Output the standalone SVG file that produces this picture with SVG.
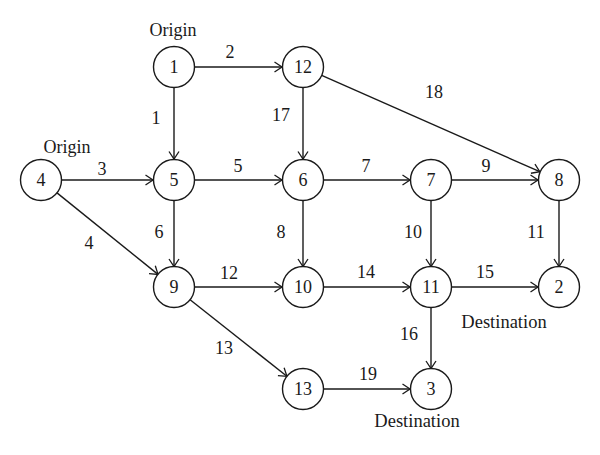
<svg xmlns="http://www.w3.org/2000/svg" width="600" height="455" viewBox="0 0 600 455">
<defs>
<marker id="arr" viewBox="-10 -6 12 12" refX="0" refY="0" markerWidth="12" markerHeight="12" markerUnits="userSpaceOnUse" orient="auto">
<path d="M -7.5 -5 L 0 0 L -7.5 5" fill="none" stroke="#1a1a1a" stroke-width="1.3"/>
</marker>
</defs>
<style>
.n circle{fill:#fff;stroke:#1a1a1a;stroke-width:1.4}
text{font-family:"Liberation Serif","Times New Roman",serif;font-size:18px;fill:#1a1a1a;text-anchor:middle}
.e line{stroke:#1a1a1a;stroke-width:1.4;marker-end:url(#arr)}
</style>
<rect width="600" height="455" fill="#fff"/>
<g id="connectors" class="e">
<line x1="194.5" y1="67" x2="282" y2="67"/>
<line x1="174" y1="87.5" x2="174" y2="159"/>
<line x1="303" y1="87.5" x2="303" y2="159"/>
<line x1="321.7" y1="75.3" x2="539.8" y2="171.7"/>
<line x1="61.5" y1="180" x2="153" y2="180"/>
<line x1="57" y1="192.9" x2="158" y2="274.4"/>
<line x1="194.5" y1="180" x2="282" y2="180"/>
<line x1="174" y1="200.5" x2="174" y2="266.5"/>
<line x1="323.5" y1="180" x2="410" y2="180"/>
<line x1="303" y1="200.5" x2="303" y2="266.5"/>
<line x1="451.5" y1="180" x2="538" y2="180"/>
<line x1="431" y1="200.5" x2="431" y2="266.5"/>
<line x1="559" y1="200.5" x2="559" y2="266.5"/>
<line x1="194.5" y1="287" x2="282" y2="287"/>
<line x1="190.1" y1="299.7" x2="286.9" y2="376.3"/>
<line x1="323.5" y1="287" x2="410" y2="287"/>
<line x1="451.5" y1="287" x2="538" y2="287"/>
<line x1="431" y1="307.5" x2="431" y2="368.5"/>
<line x1="323.5" y1="389" x2="410" y2="389"/>
</g>
<g id="edge-labels">
<text x="156" y="124">1</text>
<text x="230" y="58">2</text>
<text x="102" y="175">3</text>
<text x="89" y="249">4</text>
<text x="238" y="172">5</text>
<text x="159" y="238">6</text>
<text x="366" y="172">7</text>
<text x="281" y="238">8</text>
<text x="486" y="172">9</text>
<text x="413" y="238">10</text>
<text x="536" y="238">11</text>
<text x="229" y="279">12</text>
<text x="224" y="354">13</text>
<text x="366" y="278">14</text>
<text x="485" y="278">15</text>
<text x="409" y="340">16</text>
<text x="281" y="121">17</text>
<text x="434" y="98">18</text>
<text x="368" y="380">19</text>
</g>
<g id="node-1" class="n"><circle cx="174" cy="67" r="20.5"/><text x="174" y="73">1</text><text x="173" y="36">Origin</text></g>
<g id="node-12" class="n"><circle cx="303" cy="67" r="20.5"/><text x="303" y="73">12</text></g>
<g id="node-4" class="n"><circle cx="41" cy="180" r="20.5"/><text x="41" y="186">4</text><text x="67" y="153">Origin</text></g>
<g id="node-5" class="n"><circle cx="174" cy="180" r="20.5"/><text x="174" y="186">5</text></g>
<g id="node-6" class="n"><circle cx="303" cy="180" r="20.5"/><text x="303" y="186">6</text></g>
<g id="node-7" class="n"><circle cx="431" cy="180" r="20.5"/><text x="431" y="186">7</text></g>
<g id="node-8" class="n"><circle cx="559" cy="180" r="20.5"/><text x="559" y="186">8</text></g>
<g id="node-9" class="n"><circle cx="174" cy="287" r="20.5"/><text x="174" y="293">9</text></g>
<g id="node-10" class="n"><circle cx="303" cy="287" r="20.5"/><text x="303" y="293">10</text></g>
<g id="node-11" class="n"><circle cx="431" cy="287" r="20.5"/><text x="431" y="293">11</text></g>
<g id="node-2" class="n"><circle cx="559" cy="287" r="20.5"/><text x="559" y="293">2</text><text x="504" y="328" style="font-size:18.5px">Destination</text></g>
<g id="node-13" class="n"><circle cx="303" cy="389" r="20.5"/><text x="303" y="395">13</text></g>
<g id="node-3" class="n"><circle cx="431" cy="389" r="20.5"/><text x="431" y="395">3</text><text x="417" y="427" style="font-size:18.5px">Destination</text></g>
</svg>
